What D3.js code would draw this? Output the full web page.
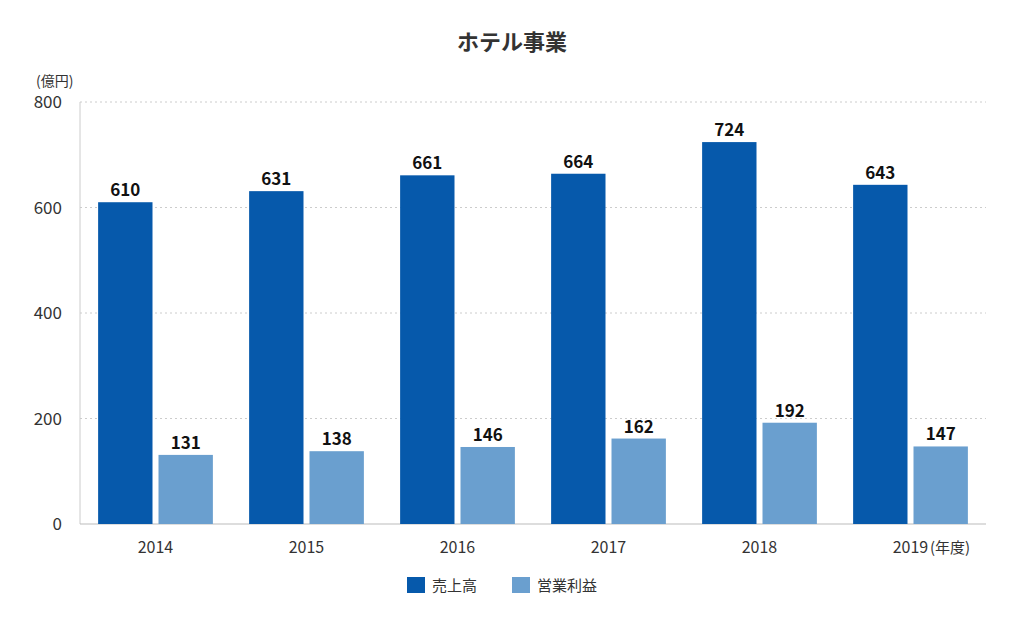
<!DOCTYPE html>
<html><head><meta charset="utf-8">
<script src="https://cdn.jsdelivr.net/npm/d3@7"></script>
<style>body{margin:0;background:#fff;font-family:"Noto Sans CJK JP","Noto Sans",sans-serif;}</style>
</head><body><svg id="chart" width="1024" height="617"></svg>
<script>
const years = ["2014", "2015", "2016", "2017", "2018", "2019"];
const sales = [610, 631, 661, 664, 724, 643];
const profit = [131, 138, 146, 162, 192, 147];
const yTicks = [0, 200, 400, 600, 800];

const svg = d3.select("#chart");
const x = d3.scaleBand().domain(years).range([80, 986]).paddingInner(0.24).paddingOuter(0.12);
const y = d3.scaleLinear().domain([0, 800]).range([524, 102]);
const bw = (x.bandwidth() - 6) / 2;

svg.append("text").attr("x", 512).attr("y", 50).attr("text-anchor", "middle")
    .attr("font-size", 22).attr("font-weight", "bold").attr("fill", "#333").text("ホテル事業");
svg.append("text").attr("x", 36).attr("y", 86).attr("font-size", 14).attr("fill", "#333").text("(億円)");

yTicks.forEach(t => {
    if (t > 0) svg.append("line").attr("x1", 80).attr("x2", 986).attr("y1", y(t)).attr("y2", y(t))
        .attr("stroke", "#ccc").attr("stroke-dasharray", "2,3");
    svg.append("text").attr("x", 62).attr("y", y(t) + 6).attr("text-anchor", "end")
        .attr("font-size", 17).attr("fill", "#333").text(t);
});
svg.append("line").attr("x1", 80).attr("x2", 80).attr("y1", 102).attr("y2", 524).attr("stroke", "#ccc");
svg.append("line").attr("x1", 80).attr("x2", 986).attr("y1", 524).attr("y2", 524).attr("stroke", "#bbb");

const series = [[sales, "#0659ab", 0], [profit, "#6a9fcf", 1]];
series.forEach(([vals, col, i]) => {
    years.forEach((yr, j) => {
        const bx = x(yr) + i * (bw + 6);
        svg.append("rect").attr("x", bx).attr("y", y(vals[j])).attr("width", bw)
            .attr("height", 524 - y(vals[j])).attr("fill", col);
        svg.append("text").attr("x", bx + bw / 2).attr("y", y(vals[j]) - 6).attr("text-anchor", "middle")
            .attr("font-size", 17).attr("font-weight", "bold").attr("fill", "#111").text(vals[j]);
    });
});

years.forEach(yr => {
    svg.append("text").attr("x", x(yr) + x.bandwidth() / 2).attr("y", 553).attr("text-anchor", "middle")
        .attr("font-size", 16).attr("fill", "#333").text(yr);
});
svg.append("text").attr("x", 930).attr("y", 553).attr("font-size", 15).attr("fill", "#333").text("(年度)");

[["売上高", "#0659ab", 407], ["営業利益", "#6a9fcf", 512]].forEach(([lab, col, lx]) => {
    svg.append("rect").attr("x", lx).attr("y", 577).attr("width", 18).attr("height", 16).attr("fill", col);
    svg.append("text").attr("x", lx + 25).attr("y", 591).attr("font-size", 15).attr("fill", "#333").text(lab);
});
</script></body></html>
